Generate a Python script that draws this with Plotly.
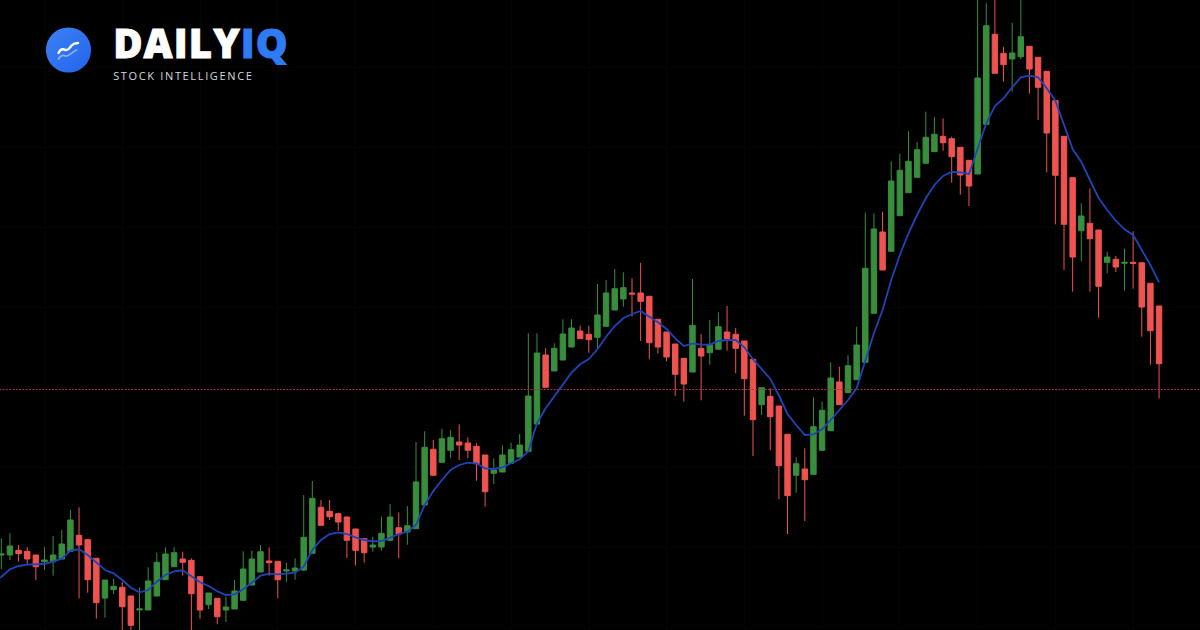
import plotly.graph_objects as go
import base64

opens = [75,75,79.7,78.7,75,68.3,68.3,71,78.7,94.7,90.3,71.7,32,40.3,42.7,34,20,20,34,50.3,63.3,71,69.7,53.3,25.3,31.7,20,21,29.7,45,58,69,68.7,59,59,60,76.7,122.7,118.7,116.3,113,101,91.3,83,83,89.7,102.3,98,101.3,125,180.7,167.7,179.7,188,187,183.7,175,156.7,158,166.7,173,178.7,206,275,259,270,283,299,295.7,292.7,303.7,320,331,337,337,333.7,310.7,298,286,271.7,258,281.7,277.3,280.7,298,295.7,289,270.7,225.3,233.7,224,195.7,154.7,161,155.7,179.7,199.3,248,237.3,250.3,267.7,316.7,398,378.7,414.3,437.3,452.7,466.7,478.3,493.7,491.3,482.7,469.7,456,505.7,595.7,576.7,571,573.3,583.7,572.7,558.7,529.3,493.7,452.3,399.3,406.7,400,367.7,370.7,366.7,367.7,367.3,346.7,324]
highs = [91.7,97,85,82.7,75,82.7,94,100,120,122.7,90.3,71.7,50,51.3,48.3,34,42.7,62.7,77.3,82.7,82.7,78.3,71.7,53.3,37,31.7,33.3,50,78.7,79.3,84.7,82.7,68.7,67.3,71.7,135,149,130,130,117.3,113.3,101.3,91.7,93.3,113.3,126,117.7,124,188,198.7,190,201,200,205.7,192.7,186.7,175,171.7,184.7,187.3,196,296.7,296.7,281.7,286.7,310.7,310.7,304.3,304.3,346,350,361,357.7,351.7,367.3,333.7,310.7,298,286,271.7,351,295.7,310,317.7,324,302,289,270.7,242.3,241.7,224,195.7,172.7,181.7,232.7,228.3,267.7,263.3,274.7,303.3,417.3,416.7,418.3,468.7,476,498.7,487.7,518.3,513,511.7,493.3,482.7,469.7,635,626.7,633,583.3,607.3,633,583.7,572.7,558.7,529.3,493.7,452.3,426.7,441.7,400,378.3,374,381.3,398.7,367.3,346.7,324]
lows = [61,70,68.3,65,50,60,54.3,70.7,78.3,31.7,37.3,11.3,12.3,36,-2,-6,-2,20,34,50,63.3,54.3,-2,11.3,21,5.7,8,21,29.7,45,58,54.3,31.7,48.3,50.3,59,76.7,104.7,110,99.3,72,64.3,67.3,78.3,79.3,89.3,72,85.3,101.3,125,154.7,167.7,172,170,172,149.3,123.3,146,158,166.7,173,178,206,242.7,259,270,283,291.3,277.3,281.7,303.7,320,323.3,313.3,289,270.7,276.3,268.7,234,228.3,258,229.7,265.3,280.7,279.3,256.7,214.3,174,215,179.7,130.7,96,137.3,109,155.7,179.7,199.3,225.3,237.3,250.3,267.7,316.7,360,378.7,414.3,437.3,452.7,466.7,478.3,479.3,447.3,435.3,424,456,505.7,556.7,548.3,538.3,571,536.3,510,457.7,405.7,360,338.3,368.7,338.3,312.3,356.7,358,339.3,341.3,293.3,265.3,231.7]
closes = [76,84,76.3,71,63.3,70,75,86,110,85,50.3,27.3,50,43.7,23.3,4.7,21,49,67.7,76,77.3,67.7,36.3,20,37,13.3,23,39,61,71,78.3,67.3,50.3,60,62,92.7,131.7,104.7,113.3,108,89.7,79.7,77.3,85,96.7,113,96,104.3,148,182.7,154.7,191.3,192.7,185,179.7,166.3,138.3,160,175,180.3,185,234,277,242.7,281.7,296,302,291.3,290.3,315,337,341.3,342.3,336,328.7,287.3,283,273,255.7,246,304.7,274,285.3,303.3,291.3,281.7,251.3,210.3,242.3,213.3,164.3,134.3,166.3,150.3,203.3,219.7,252,225.3,264.3,285,361.7,401,360,449,459.7,468.7,480.3,492.7,495.7,487.3,473.3,455,444,552,604.3,556.7,565.3,577,593.3,561,542.7,497,454.7,405.7,373,414,391.3,343.7,373,363,367.7,366.7,323,299.3,266.3]
moving_avg = [51,53,60.7,64,65.3,65.3,66,68.7,71.3,79.3,80.7,75,67.3,60,56.7,50,42.3,37.7,40,48.3,55,58.7,59.7,54,47.7,44,38.7,35,35.7,40.7,47.3,54.3,56.3,55.7,56.3,57.3,63.3,80,90,96,97.7,96,92.7,90,88.7,89,92.3,96,98.3,105,125,139,150,160,165,167.3,166.7,161.7,161,162.7,166.7,170.7,178.7,206.7,221.7,233.3,245,257.3,265.7,271,280.7,293.3,304,311.7,316,319,313.3,307.7,301,291.7,284,286.7,285.3,285.3,289,290,290,282.7,270.7,260.7,251.3,234.5,216,205,195,195.7,200.7,210,220,230,241.7,268.3,296.7,320,350,375,396.7,415,431.7,445,454,458,457.7,456,482,506.7,524,531.7,542.7,552.7,554.3,552.7,541.7,529.3,505,481,468,450,432,420,409.3,400.7,395,380,365,347.7]
price_line = 240.5
candle_index = list(range(len(opens)))
ma_index = list(range(-1, len(opens)))
brand_main = "DAILY"
brand_accent = "IQ"
tagline = "STOCK INTELLIGENCE"

GREEN, RED, BLUE = "#388E3C", "#EF5350", "#1E45B8"

logo_svg = """<svg xmlns='http://www.w3.org/2000/svg' width='46' height='46' viewBox='0 0 46 46'>
<defs><linearGradient id='g' x1='0' y1='0' x2='1' y2='1'><stop offset='0' stop-color='#3B82F6'/><stop offset='1' stop-color='#2563EB'/></linearGradient></defs>
<circle cx='23' cy='23' r='22.6' fill='url(#g)'/>
<path d='M13 26 C15 22 18 22 20 23 C23 24 24 21 26 18.5 C28 16.5 30 16 32.5 16' fill='none' stroke='#fff' stroke-width='2.4' stroke-linecap='round'/>
<path d='M13 32 C15 28 18 28 20 29 C23 30 25 26 31 23' fill='none' stroke='#fff' stroke-opacity='.45' stroke-width='1.8' stroke-linecap='round'/>
</svg>"""
logo_uri = "data:image/svg+xml;base64," + base64.b64encode(logo_svg.encode()).decode()

fig = go.Figure()
fig.add_trace(go.Scatter(x=[-1, len(opens) + 5], y=[price_line, price_line], mode="lines",
                         line=dict(color="#A83232", width=1, dash="2px,1.3px"), hoverinfo="skip"))
fig.add_trace(go.Candlestick(x=candle_index, open=opens, high=highs, low=lows, close=closes,
                             whiskerwidth=0,
                             increasing=dict(line=dict(color=GREEN, width=1), fillcolor=GREEN),
                             decreasing=dict(line=dict(color=RED, width=1), fillcolor=RED)))
fig.add_trace(go.Scatter(x=ma_index, y=moving_avg, mode="lines",
                         line=dict(color=BLUE, width=1.8), hoverinfo="skip"))

fig.update_layout(
    width=1200, height=630, autosize=False, showlegend=False,
    margin=dict(l=0, r=0, t=0, b=0),
    paper_bgcolor="#000000", plot_bgcolor="#000000",
    boxgap=0.1,
    boxgroupgap=0.3,
    xaxis=dict(range=[-0.15, 138.74], visible=True, showticklabels=False, ticks="",
               showgrid=True, gridcolor="#050505", gridwidth=1, dtick=9, tick0=5,
               zeroline=False, showline=False, rangeslider=dict(visible=False)),
    yaxis=dict(range=[0, 630], visible=True, showticklabels=False, ticks="",
               showgrid=True, gridcolor="#050505", gridwidth=1, dtick=80, tick0=3,
               zeroline=False, showline=False),
    images=[dict(source=logo_uri, xref="paper", yref="paper",
                 x=45.5 / 1200, y=1 - 27 / 630, sizex=46 / 1200, sizey=46 / 630,
                 xanchor="left", yanchor="top", sizing="stretch", layer="above")],
    annotations=[
        dict(text=f"{brand_main}<span style='color:#2F7BF6'>{brand_accent}</span>",
             xref="paper", yref="paper", x=200.5 / 1200, y=1 - 42.5 / 630, xanchor="center", yanchor="middle",
             showarrow=False, font=dict(family="Open Sans", size=40, color="#FFFFFF", weight=800)),
        dict(text=tagline, xref="paper", yref="paper", x=183.5 / 1200, y=1 - 75.5 / 630,
             xanchor="center", yanchor="middle", showarrow=False,
             font=dict(family="Open Sans", size=11, color="#D4D8DE", weight=500)),
    ],
)

post = """
document.documentElement.style.background='#000';
document.body.style.margin='0';
document.body.style.background='#000';
var t=document.querySelectorAll('.annotation-text');
if(t.length>1){
  t[0].style.letterSpacing='1.1px';
  t[0].style.stroke='#fff';
  t[0].style.strokeWidth='0.9px';
  t[0].querySelectorAll('tspan').forEach(function(s){ if(s.textContent==='IQ'){s.style.stroke='#2F7BF6';} });
  t[1].style.letterSpacing='1.65px';
}
"""
fig.write_html("out.html", post_script=post, config={"displayModeBar": False})
